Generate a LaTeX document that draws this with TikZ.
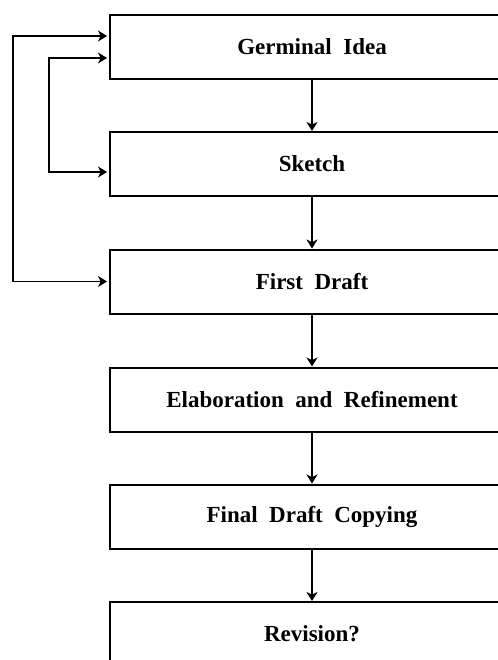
\documentclass[tikz,border=0pt]{standalone}
\usepackage{fontspec}
\setmainfont{Liberation Serif}
\usepackage{tikz}
\usetikzlibrary{arrows.meta,positioning}

\begin{document}
\begin{tikzpicture}[x=0.5pt,y=-0.5pt,
    stage/.style={draw,line width=1pt,minimum width=202pt,minimum height=32pt,
      font=\fontsize{11.5}{14}\selectfont\bfseries,inner sep=0pt},
    down/.style={line width=0.6pt,-{Stealth[length=4.5pt,width=5.5pt,inset=1.3pt]}},
    back/.style={line width=0.6pt,shorten <=1pt,shorten >=1pt,
      {Stealth[length=4.5pt,width=5.5pt,inset=1.3pt]}-{Stealth[length=4.5pt,width=5.5pt,inset=1.3pt]}}]
        \clip (0,0) rectangle (498,660);
        % stages
        \node[stage] (germ) at (312,46.5) {Germinal\ \ Idea};
        \node[stage] (sketch) at (312,164) {Sketch};
        \node[stage] (first) at (312,281.5) {First\ \ Draft};
        \node[stage] (elab) at (312,399.5) {Elaboration\ \ and\ \ Refinement};
        \node[stage] (final) at (312,516.5) {Final\ \ Draft\ \ Copying};
        \node[stage] (rev) at (312,634) {Revision?};
        % forward arrows
        \draw[down] (germ) -- (sketch);
        \draw[down] (sketch) -- (first);
        \draw[down] (first) -- (elab);
        \draw[down] (elab) -- (final);
        \draw[down] (final) -- (rev);
        % feedback loops
        \draw[back] ([yshift=5.25pt]germ.west) -- ++(-96,0) |- (first.west);
        \draw[back] ([yshift=-5.75pt]germ.west) -- ++(-60,0) |- ([yshift=-4pt]sketch.west);
      \end{tikzpicture}
\end{document}
